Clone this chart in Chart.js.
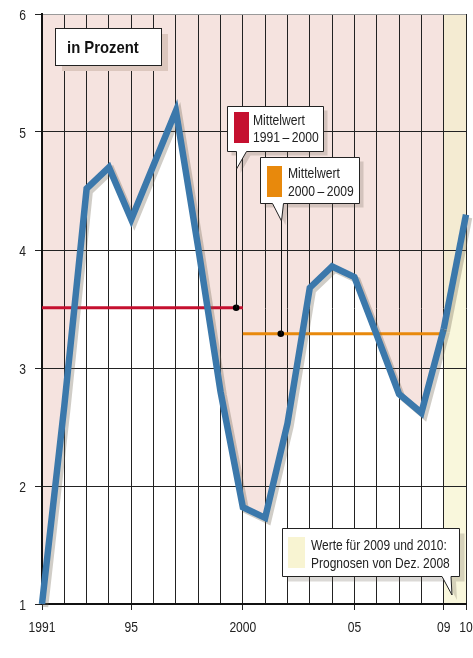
<!DOCTYPE html>
<html>
<head>
<meta charset="utf-8">
<script src="https://cdn.jsdelivr.net/npm/chart.js@4/dist/chart.umd.min.js"></script>
<style>
  html, body { margin: 0; padding: 0; background: #fff; }
  #wrap { width: 473px; height: 658px; position: relative; }
</style>
</head>
<body>
<div id="wrap"><canvas id="chart" width="473" height="658"></canvas></div>
<script>
// Yearly values, in percent
const years = [1991, 1992, 1993, 1994, 1995, 1996, 1997, 1998, 1999, 2000,
               2001, 2002, 2003, 2004, 2005, 2006, 2007, 2008, 2009, 2010];
const rates = [1.0, 2.68, 4.52, 4.70, 4.26, 4.72, 5.18, 4.02, 2.80, 1.82,
               1.73, 2.53, 3.68, 3.86, 3.77, 3.28, 2.78, 2.62, 3.33, 4.30];

// Axis labels
const tickYears = [1991, 1995, 2000, 2005, 2009, 2010];
const tickLabels = ['1991', '95', '2000', '05', '09', '10'];
const yTickValues = [1, 2, 3, 4, 5, 6];

// First forecast year (2009 and 2010 are forecasts)
const forecastFrom = 2009;

// Period averages
const meanFrom = [1991, 2000];
const meanTo = [2000, 2009];
const meanValues = [3.51, 3.29];
const meanMarkerYears = [1999.7, 2001.7];

// Texts
const unitLabel = 'in Prozent';
const meanTitle = 'Mittelwert';
const meanPeriodLabels = ['1991\u2009\u2013\u20092000', '2000\u2009\u2013\u20092009'];
const noteLines = ['Werte für 2009 und 2010:', 'Prognosen von Dez. 2008'];

const FONT = '"Liberation Sans", Arial, sans-serif';
const C = {
  blue: '#3b78ab',
  pink: '#f5e3df',
  beige: '#f4ebd2',
  lightYellow: '#f9f7dc',
  red: '#c5102f',
  orange: '#e8890c',
  ink: '#222222'
};

const points = years.map((y, i) => ({ x: y, y: rates[i] }));
const isForecast = ctx => years[ctx.p0DataIndex] >= forecastFrom;

// Condensed text: regular face squeezed horizontally
function narrowText(ctx, text, x, y, size, opts = {}) {
  const sx = opts.squeeze || 0.8;
  ctx.save();
  ctx.font = (opts.bold ? 'bold ' : '') + size + 'px ' + FONT;
  ctx.fillStyle = opts.color || C.ink;
  ctx.textBaseline = 'alphabetic';
  ctx.textAlign = 'left';
  const w = ctx.measureText(text).width * sx;
  let left = x;
  if (opts.align === 'center') left = x - w / 2;
  else if (opts.align === 'right') left = x - w;
  ctx.translate(left, y);
  ctx.scale(sx, 1);
  ctx.fillText(text, 0, 0);
  ctx.restore();
}

// Drop shadow under the main line
const lineShadow = {
  id: 'lineShadow',
  beforeDatasetDraw(chart, args) {
    if (args.index !== 0) return;
    const ctx = chart.ctx;
    ctx.save();
    ctx.shadowColor = 'rgba(110,100,80,0.32)';
    ctx.shadowOffsetX = 3;
    ctx.shadowOffsetY = 3;
    ctx.shadowBlur = 0;
  },
  afterDatasetDraw(chart, args) {
    if (args.index !== 0) return;
    chart.ctx.restore();
  }
};

// Tick labels of both axes, set in a condensed face at the scales' tick positions
const axisLabels = {
  id: 'axisLabels',
  afterDraw(chart) {
    const ctx = chart.ctx;
    const xs = chart.scales.x, ys = chart.scales.y;
    const size = 15.5, cap = 11.2;
    xs.ticks.forEach((t, i) => {
      if (!t.label) return;
      narrowText(ctx, String(t.label), xs.getPixelForTick(i), xs.top + 28, size, { align: 'center', squeeze: 0.78 });
    });
    ys.ticks.forEach((t, i) => {
      if (!t.label) return;
      const y = ys.getPixelForTick(i);
      narrowText(ctx, String(t.label), ys.right - 16, y + cap / 2, size, { align: 'right', squeeze: 0.78 });
    });
  }
};

function bubblePath(ctx, x, y, w, h, tail) {
  ctx.beginPath();
  ctx.moveTo(x, y);
  ctx.lineTo(x + w, y);
  ctx.lineTo(x + w, y + h);
  if (tail) {
    ctx.lineTo(tail.right, y + h);
    ctx.lineTo(tail.tipX, tail.tipY);
    ctx.lineTo(tail.left, y + h);
  }
  ctx.lineTo(x, y + h);
  ctx.closePath();
}

function bubble(ctx, x, y, w, h, tail, shadowColor, sx, sy) {
  ctx.save();
  ctx.translate(sx, sy);
  bubblePath(ctx, x, y, w, h, tail);
  ctx.fillStyle = shadowColor;
  ctx.fill();
  ctx.restore();
  bubblePath(ctx, x, y, w, h, tail);
  ctx.fillStyle = '#ffffff';
  ctx.fill();
  ctx.strokeStyle = C.ink;
  ctx.lineWidth = 1;
  ctx.stroke();
}

// Unit box, callouts and their connectors
const callouts = {
  id: 'callouts',
  afterDraw(chart) {
    const ctx = chart.ctx;
    const xs = chart.scales.x, ys = chart.scales.y;
    ctx.save();

    // unit box
    ctx.fillStyle = '#dcc7be';
    ctx.fillRect(62, 34, 106, 37);
    ctx.fillStyle = '#fff';
    ctx.fillRect(55, 28, 106, 37);
    ctx.strokeStyle = C.ink;
    ctx.lineWidth = 1;
    ctx.strokeRect(55.5, 28.5, 106, 37);
    narrowText(ctx, unitLabel, 67, 52.5, 16.5, { bold: true, squeeze: 0.9, color: '#111' });

    // connectors from callouts to the period markers
    const mx0 = Math.round(xs.getPixelForValue(meanMarkerYears[0])) + 0.5;
    const my0 = ys.getPixelForValue(meanValues[0]);
    const mx1 = Math.round(xs.getPixelForValue(meanMarkerYears[1])) + 0.5;
    const my1 = ys.getPixelForValue(meanValues[1]);
    ctx.strokeStyle = '#111';
    ctx.lineWidth = 1;
    ctx.beginPath();
    ctx.moveTo(mx0, 165); ctx.lineTo(mx0, my0);
    ctx.moveTo(mx1, 218); ctx.lineTo(mx1, my1);
    ctx.stroke();

    const shadow = 'rgba(90,80,70,0.22)';
    // callout 1
    bubble(ctx, 227.5, 106.5, 96, 45, { left: mx0, right: mx0 + 10, tipX: mx0, tipY: 169 }, shadow, 4, 4);
    ctx.fillStyle = C.red;
    ctx.fillRect(234, 112, 15, 31);
    narrowText(ctx, meanTitle, 253, 124.5, 15, { squeeze: 0.81 });
    narrowText(ctx, meanPeriodLabels[0], 253, 142, 15, { squeeze: 0.81 });

    // callout 2
    bubble(ctx, 260.5, 157.5, 99, 46, { left: mx1 - 9, right: mx1 + 2, tipX: mx1, tipY: 221 }, shadow, 4, 4);
    ctx.fillStyle = C.orange;
    ctx.fillRect(267, 166, 15, 31);
    narrowText(ctx, meanTitle, 288, 177.5, 15, { squeeze: 0.81 });
    narrowText(ctx, meanPeriodLabels[1], 288, 195.5, 15, { squeeze: 0.81 });

    // forecast note
    bubble(ctx, 282.5, 528.5, 177, 48, { left: 442, right: 451, tipX: 452, tipY: 595 }, shadow, 5, 5);
    ctx.fillStyle = '#f8f4d2';
    ctx.fillRect(288, 537, 17, 31);
    narrowText(ctx, noteLines[0], 311, 549.5, 15, { squeeze: 0.8 });
    narrowText(ctx, noteLines[1], 311, 568, 15, { squeeze: 0.8 });

    ctx.restore();
  }
};

new Chart(document.getElementById('chart'), {
  type: 'line',
  data: {
    datasets: [
      {
        label: 'Rendite',
        data: points,
        borderColor: C.blue,
        borderWidth: 6.5,
        borderJoinStyle: 'miter',
        borderCapStyle: 'butt',
        pointRadius: 0,
        tension: 0,
        fill: 'end',
        backgroundColor: C.pink,
        segment: { backgroundColor: ctx => isForecast(ctx) ? C.beige : C.pink },
        clip: false,
        order: 0
      },
      {
        label: 'unter',
        data: points,
        borderWidth: 0,
        borderColor: 'rgba(0,0,0,0)',
        pointRadius: 0,
        tension: 0,
        fill: 'start',
        backgroundColor: '#ffffff',
        segment: { backgroundColor: ctx => isForecast(ctx) ? C.lightYellow : '#ffffff' },
        order: 3
      },
      {
        label: 'Mittelwert ' + meanPeriodLabels[0],
        data: [{ x: meanFrom[0], y: meanValues[0] }, { x: meanTo[0], y: meanValues[0] }],
        borderColor: C.red,
        borderWidth: 3,
        pointRadius: 0,
        fill: false,
        order: 2
      },
      {
        label: 'Mittelwert ' + meanPeriodLabels[1],
        data: [{ x: meanFrom[1], y: meanValues[1] }, { x: meanTo[1], y: meanValues[1] }],
        borderColor: C.orange,
        borderWidth: 3,
        pointRadius: 0,
        fill: false,
        order: 2
      },
      {
        label: 'Marker',
        data: meanMarkerYears.map((x, i) => ({ x, y: meanValues[i] })),
        showLine: false,
        pointRadius: 3.3,
        pointBackgroundColor: '#000',
        pointBorderWidth: 0,
        fill: false,
        order: 1
      }
    ]
  },
  options: {
    responsive: false,
    animation: false,
    devicePixelRatio: 1,
    layout: { padding: { top: 14, right: 7, bottom: 0, left: 0 } },
    plugins: {
      legend: { display: false },
      tooltip: { enabled: false },
      filler: { drawTime: 'beforeDraw' }
    },
    scales: {
      x: {
        type: 'linear',
        min: years[0],
        max: years[years.length - 1],
        afterFit: s => { s.height = 54; s.paddingLeft = 0; s.paddingRight = 0; },
        afterBuildTicks: s => { s.ticks = years.map(v => ({ value: v })); },
        border: { display: true, color: '#111', width: 2 },
        grid: {
          color: '#222',
          lineWidth: 1,
          tickLength: 6,
          tickColor: ctx => (ctx.tick && tickYears.includes(ctx.tick.value)) ? '#222' : 'rgba(0,0,0,0)'
        },
        ticks: {
          display: false,
          autoSkip: false,
          maxRotation: 0,
          callback: v => {
            const i = tickYears.indexOf(Math.round(v));
            return i >= 0 ? tickLabels[i] : '';
          }
        }
      },
      y: {
        min: yTickValues[0],
        max: yTickValues[yTickValues.length - 1],
        afterFit: s => { s.width = 42; s.paddingTop = 0; s.paddingBottom = 0; },
        afterBuildTicks: s => { s.ticks = yTickValues.map(v => ({ value: v })); },
        border: { display: true, color: '#111', width: 2 },
        grid: {
          color: ctx => (ctx.tick && ctx.tick.value === 6) ? '#9a9a9a' : '#222',
          lineWidth: 1,
          tickLength: 7,
          tickColor: '#222'
        },
        ticks: {
          display: false,
          callback: v => String(v)
        }
      }
    }
  },
  plugins: [lineShadow, axisLabels, callouts]
});
</script>
</body>
</html>
